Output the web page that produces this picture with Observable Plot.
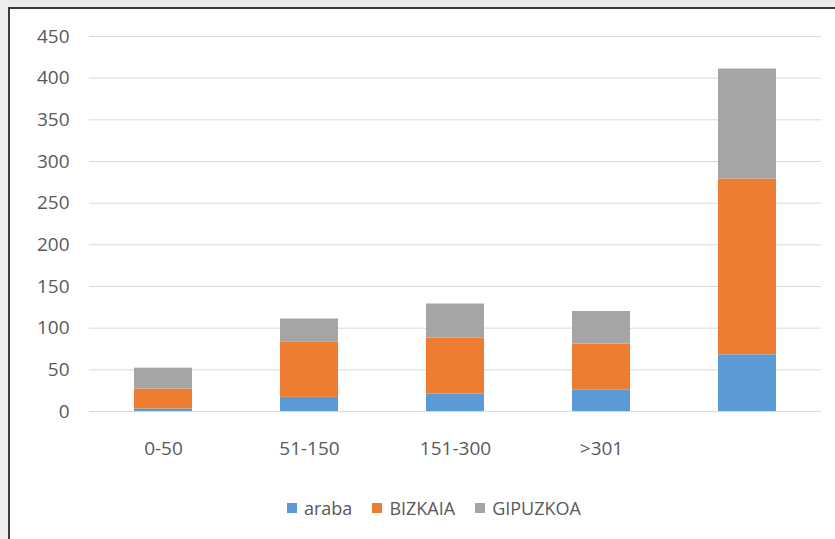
<!DOCTYPE html>
<html>
<head>
<meta charset="utf-8">
<script src="https://cdn.jsdelivr.net/npm/d3@7"></script>
<script src="https://cdn.jsdelivr.net/npm/@observablehq/plot@0.6"></script>
<style>
  html, body { margin: 0; padding: 0; width: 835px; height: 539px; overflow: hidden; background: #ededed; }
  #frame { position: absolute; left: 8px; top: 7px; width: 900px; height: 600px; background: #ffffff;
           border-top: 2px solid #3c3c3c; border-left: 2px solid #3c3c3c; }
  #chart { position: absolute; left: 0; top: 0; }
  #legend { position: absolute; left: 287px; top: 495px; display: flex; align-items: center;
            font-family: "Open Sans", sans-serif; font-size: 18px; color: #595959; line-height: 26px; }
  .item { display: flex; align-items: center; margin-right: 20px; }
  .sw { width: 10px; height: 10px; margin-right: 7px; display: inline-block; }
</style>
</head>
<body>
<div id="frame"></div>
<div id="chart"></div>
<div id="legend"></div>
<script>
const categories = ["0-50", "51-150", "151-300", ">301", "Guztira"];
const tickLabels = ["0-50", "51-150", "151-300", ">301", ""];
const seriesNames = ["araba", "BIZKAIA", "GIPUZKOA"];
const araba = [3, 17, 21, 26, 68];
const bizkaia = [24, 66, 67, 55, 211];
const gipuzkoa = [25, 28, 41, 39, 132];
const yTicks = [0, 50, 100, 150, 200, 250, 300, 350, 400, 450];
const colors = ["#5B9BD5", "#ED7D31", "#A5A5A5"];

const seriesValues = [araba, bizkaia, gipuzkoa];
const rows = [];
seriesNames.forEach((s, si) => {
  categories.forEach((c, ci) => rows.push({category: c, series: s, value: seriesValues[si][ci]}));
});

const chart = Plot.plot({
  width: 835,
  height: 470,
  marginLeft: 89,
  marginRight: 14,
  marginTop: 36,
  marginBottom: 59,
  style: {fontFamily: "Open Sans, sans-serif", fontSize: "19px", color: "#595959", background: "transparent", overflow: "visible"},
  x: {domain: categories, paddingInner: 0.6, paddingOuter: 0.3, label: null},
  y: {domain: [0, 450], label: null},
  color: {domain: seriesNames, range: colors},
  marks: [
    Plot.ruleY(yTicks, {stroke: "#d9d9d9", strokeWidth: 1}),
    Plot.barY(rows, {x: "category", y: "value", fill: "series", order: seriesNames}),
    Plot.axisY(yTicks, {tickSize: 0, tickPadding: 20, label: null, fill: "#595959"}),
    Plot.axisX({tickSize: 0, tickPadding: 30, label: null, fill: "#595959",
      tickFormat: d => tickLabels[categories.indexOf(d)]})
  ]
});
document.getElementById("chart").appendChild(chart);

const legend = document.getElementById("legend");
seriesNames.forEach((s, i) => {
  const item = document.createElement("div");
  item.className = "item";
  const sw = document.createElement("span");
  sw.className = "sw";
  sw.style.background = colors[i];
  const t = document.createElement("span");
  t.textContent = s;
  item.appendChild(sw);
  item.appendChild(t);
  legend.appendChild(item);
});
</script>
</body>
</html>
